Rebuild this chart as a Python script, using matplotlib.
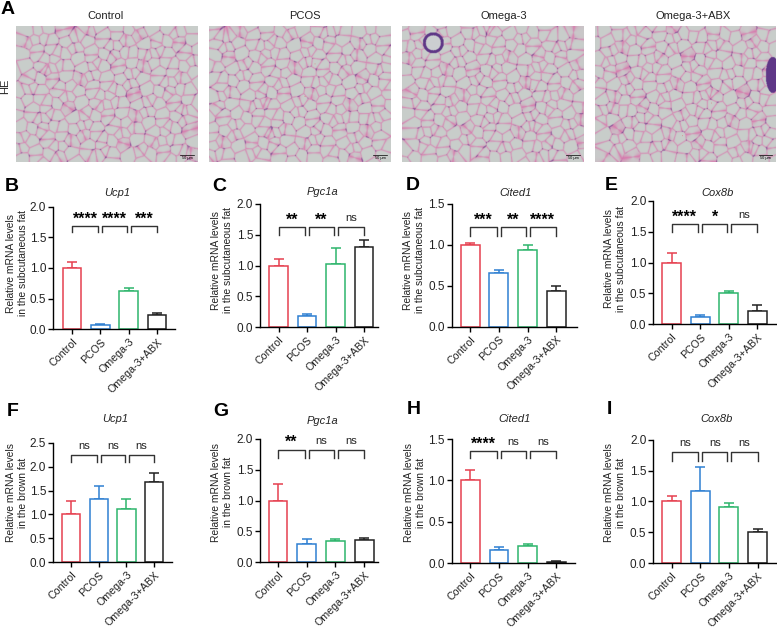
import numpy as np
import matplotlib
matplotlib.use('Agg')
import matplotlib.pyplot as plt

plt.rcParams['font.family'] = ['Liberation Sans', 'DejaVu Sans']

W, H = 777, 630

groups = ['Control', 'PCOS', 'Omega-3', 'Omega-3+ABX']
colors = ['#E6404F', '#2F80D2', '#2EB56C', '#222222']
he_titles = ['Control', 'PCOS', 'Omega-3', 'Omega-3+ABX']

# bar heights and top of the error bars
b_mean = [1.0, 0.07, 0.63, 0.23]
b_top = [1.09, 0.09, 0.68, 0.26]
c_mean = [1.0, 0.18, 1.03, 1.31]
c_top = [1.10, 0.21, 1.29, 1.42]
d_mean = [1.0, 0.66, 0.94, 0.44]
d_top = [1.02, 0.69, 1.0, 0.50]
e_mean = [1.0, 0.12, 0.51, 0.22]
e_top = [1.15, 0.15, 0.54, 0.31]
f_mean = [1.0, 1.32, 1.12, 1.67]
f_top = [1.28, 1.59, 1.33, 1.86]
g_mean = [1.0, 0.30, 0.35, 0.36]
g_top = [1.26, 0.37, 0.37, 0.39]
h_mean = [1.0, 0.16, 0.21, 0.01]
h_top = [1.13, 0.195, 0.225, 0.02]
i_mean = [1.0, 1.16, 0.91, 0.51]
i_top = [1.09, 1.55, 0.98, 0.55]

sub = 'Relative mRNA levels\nin the subcutaneous fat'
brown = 'Relative mRNA levels\nin the brown fat'

# letter, gene, mean, top, ymax, ystep, ylabel, significance marks
panels = [
    ('B', 'Ucp1', b_mean, b_top, 2.0, 0.5, sub, ['****', '****', '***']),
    ('C', 'Pgc1a', c_mean, c_top, 2.0, 0.5, sub, ['**', '**', 'ns']),
    ('D', 'Cited1', d_mean, d_top, 1.5, 0.5, sub, ['***', '**', '****']),
    ('E', 'Cox8b', e_mean, e_top, 2.0, 0.5, sub, ['****', '*', 'ns']),
    ('F', 'Ucp1', f_mean, f_top, 2.5, 0.5, brown, ['ns', 'ns', 'ns']),
    ('G', 'Pgc1a', g_mean, g_top, 2.0, 0.5, brown, ['**', 'ns', 'ns']),
    ('H', 'Cited1', h_mean, h_top, 1.5, 0.5, brown, ['****', 'ns', 'ns']),
    ('I', 'Cox8b', i_mean, i_top, 2.0, 0.5, brown, ['ns', 'ns', 'ns']),
]

# layout in pixels: left, right, top, bottom of the axes
boxes = [(53, 175, 206.7, 329.3), (260, 378, 204, 327.3), (451.7, 576.7, 203.7, 326.7),
         (653.3, 776.7, 200.7, 324.3), (53, 172, 442.7, 562.3), (260, 378, 438.7, 562.3),
         (451.7, 575, 439, 563), (653.3, 776.7, 439.7, 563)]
first_bar = [72, 278.7, 470.3, 671.7, 71.3, 278, 470.3, 671.7]
bar_step = [28.3, 28.4, 28.6, 28.5, 27.6, 28.7, 28.7, 28.6]
bracket_y = [(1.685, 1.59), (1.62, 1.49), (1.21, 1.11), (1.62, 1.50),
             (2.24, 2.09), (1.82, 1.69), (1.355, 1.266), (1.795, 1.654)]
letter_xy = [(5, 186), (212, 186), (406, 185), (605, 185), (7, 411), (213, 411), (407, 410), (607, 410)]
title_xy = [(117, 193), (323, 192), (516, 193), (718, 193), (115, 419), (323, 421), (515, 419), (717, 419)]
ylabel_xy = [(17, 263), (222, 260), (414, 260), (615, 259), (17, 493), (222, 492), (415, 493), (615, 493)]


def px(x, y):
    return x / W, 1 - y / H


def add_axes_px(left, right, top, bottom):
    return fig.add_axes([left / W, 1 - bottom / H, (right - left) / W, (bottom - top) / H])


def histology(w, h, offset, n, seed_shift):
    # cell walls from a low discrepancy point set, only a backdrop for the photo panels
    idx = np.arange(1, n + 1) + seed_shift
    sx = (idx * 0.7548776662 + offset) % 1 * w + 7 * np.sin(idx * 1.7)
    sy = (idx * 0.5698402910 + offset * 0.5) % 1 * h + 7 * np.cos(idx * 2.3)
    yy, xx = np.mgrid[0:h, 0:w]
    d = np.sqrt((xx[..., None] - sx) ** 2 + (yy[..., None] - sy) ** 2)
    part = np.partition(d, 2, axis=2)
    wall = np.exp(-(part[..., 1] - part[..., 0]) / 1.6)
    node = np.clip(1 - (part[..., 2] - part[..., 0]) / 3.0, 0, 1)
    bg = np.array([200, 206, 203]) / 255
    pink = np.array([216, 118, 172]) / 255
    purple = np.array([105, 60, 140]) / 255
    img = bg + wall[..., None] * (pink - bg)
    spots = node * (np.sin(xx * 0.37 + yy * 0.23 + offset * 9) > 0.2)
    img = img + spots[..., None] * (purple - img)
    return img, xx, yy


fig = plt.figure(figsize=(W / 100, H / 100), dpi=100)

# panel A
he_boxes = [(16.3, 197.7), (209.3, 390.7), (402, 583.7), (595, 775.7)]
he_centers = [106, 305, 504, 693]
for k, (left, right) in enumerate(he_boxes):
    ax = add_axes_px(left, right, 25.5, 162)
    img, xx, yy = histology(363, 273, 0.13 + k * 0.21, 270, k * 40)
    dark = np.array([95, 55, 135]) / 255
    if k == 2:
        # vessel ring at the top left
        r = np.sqrt((xx - 62) ** 2 + (yy - 35) ** 2)
        img[r < 21] = [0.80, 0.81, 0.82]
        img[(r > 15) & (r < 21)] = dark
    if k == 3:
        # dark clump on the right edge
        r = np.sqrt(((xx - 356) / 14) ** 2 + ((yy - 99) / 36) ** 2)
        img[r < 1] = dark
    ax.imshow(img, interpolation='bilinear', aspect='auto')
    ax.set_axis_off()
    ax.plot([328, 356], [258, 258], color='k', lw=0.5)
    ax.text(342, 264, '50 μm', fontsize=2.8, ha='center', va='center', color='k')
    fig.text(*px(he_centers[k], 16), he_titles[k], fontsize=8, ha='center', va='center', color='#222222')

fig.text(*px(5, 86), 'HE', fontsize=8, rotation=90, ha='center', va='center', color='#222222')
fig.text(*px(1, 10), 'A', fontsize=14, fontweight='bold', ha='left', va='center', color='k')

# panels B to I
for n, (letter, gene, mean, top, ymax, ystep, ylab, marks) in enumerate(panels):
    left, right, ptop, bottom = boxes[n]
    ax = add_axes_px(left, right, ptop, bottom)
    x = np.arange(4)
    err = np.array(top) - np.array(mean)
    ax.bar(x, mean, width=0.66, facecolor='white', edgecolor=colors, linewidth=1.1, zorder=2)
    for j in x:
        ax.errorbar(j, mean[j], yerr=[[0], [err[j]]], color=colors[j], capsize=3.8,
                    elinewidth=1.1, capthick=1.1, clip_on=False, zorder=1)
    ax.set_xlim((left - first_bar[n]) / bar_step[n], (right - first_bar[n]) / bar_step[n])
    ax.set_ylim(0, ymax)
    ax.set_yticks(np.arange(0, ymax + 0.01, ystep))
    ax.set_xticks(x)
    ax.set_xticklabels(groups, rotation=45, ha='right', rotation_mode='anchor', fontsize=7.7, color='#222222')
    ax.tick_params(axis='y', labelsize=8.5, width=1, length=3.5, pad=1.5, labelcolor='#222222')
    ax.tick_params(axis='x', width=1, length=3.5, pad=2)
    ax.spines['top'].set_visible(False)
    ax.spines['right'].set_visible(False)
    ax.spines['left'].set_linewidth(1)
    ax.spines['bottom'].set_linewidth(1)
    ax.patch.set_alpha(0)

    yt, yb = bracket_y[n]
    spans = [(0, 0.93), (1.07, 1.95), (2.08, 3.0)]
    for (x0, x1), mark in zip(spans, marks):
        ax.plot([x0, x0, x1, x1], [yb, yt, yt, yb], color='#333333', lw=1, clip_on=False)
        xm = (x0 + x1) / 2
        gap = (yt - yb) * 1.05
        if mark == 'ns':
            ax.text(xm, yt + gap * 0.5, mark, fontsize=8, ha='center', va='bottom', color='#222222')
        else:
            ax.text(xm, yt - gap * 0.05, mark, fontsize=11.5, fontweight='bold', ha='center', va='bottom', color='k')

    fig.text(*px(*letter_xy[n]), letter, fontsize=14, fontweight='bold', ha='left', va='center', color='k')
    fig.text(*px(*title_xy[n]), gene, fontsize=8, style='italic', ha='center', va='center', color='#222222')
    fig.text(*px(*ylabel_xy[n]), ylab, fontsize=7.4, rotation=90, ha='center', va='center',
             linespacing=1.2, color='#222222', multialignment='center')

fig.savefig('out.png', dpi=100)
